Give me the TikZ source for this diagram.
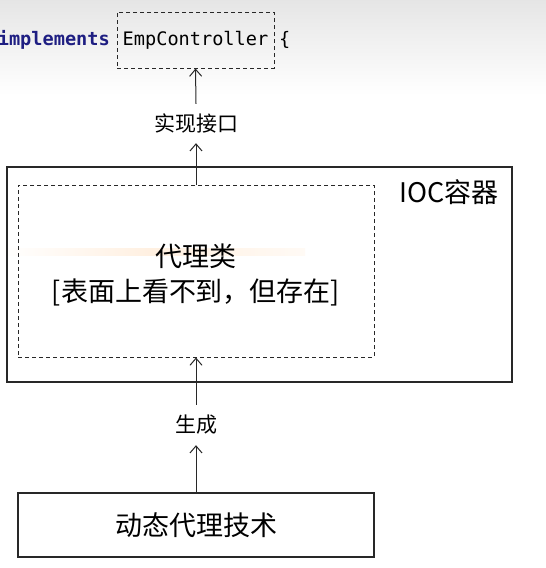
\documentclass[tikz,border=0pt]{standalone}
\usepackage{fontspec}
\setmainfont{Noto Sans CJK SC}
\newfontfamily\codefont{DejaVu Sans Mono}
\usetikzlibrary{arrows.meta}
\definecolor{kw}{RGB}{30,30,130}
\definecolor{ln}{RGB}{40,40,40}
\begin{document}
\begin{tikzpicture}[x=1pt,y=1pt,
  arr/.style={draw=ln, line width=1pt, -{Straight Barb[length=7pt,width=12pt]}},
  box/.style={draw=ln, line width=1.2pt, rectangle, inner sep=0pt},
  dbox/.style={draw=ln, line width=1pt, dash pattern=on 4pt off 3pt, rectangle, inner sep=0pt},
  lbl/.style={inner sep=0pt, font=\fontsize{21}{21}\selectfont, minimum width=90pt},
  code/.style={inner sep=0pt, font=\codefont\fontsize{18.6}{20}\selectfont}]
\useasboundingbox (0,0) rectangle (546,-568);
\fill[white] (0,0) rectangle (546,-568);
\shade[top color=black!10, bottom color=white] (0,0) rectangle (546,-95);
\shade[left color=white, right color=orange!4, middle color=orange!12] (0,-248) rectangle (305,-255);
% code line
\node[code, dbox, minimum width=157pt, minimum height=56pt] (emp) at (195.5,-40) {EmpController};
\node[code, anchor=base east, text=kw, font=\codefont\bfseries\fontsize{18.6}{20}\selectfont] (impl) at (110,-45.5) {implements};
\node[code, anchor=base west] (brace) at (279,-45.5) {\{};
% labels
\node[lbl, minimum height=39pt] (lbl1) at (196,-123.5) {实现接口};
\node[lbl, minimum height=40pt] (lbl2) at (196,-425) {生成};
% IOC container
\node[box, minimum width=505pt, minimum height=215pt] (ioc) at (259.5,-274.5) {};
\node[inner sep=0pt, font=\fontsize{27}{27}\selectfont] (ioclbl) at (449,-192) {IOC容器};
\node[dbox, minimum width=356pt, minimum height=172pt] (proxy) at (196,-271) {};
\node[inner sep=0pt, align=center, font=\fontsize{27}{35}\selectfont] (ptext) at (196,-274.5) {代理类\\{}[表面上看不到，但存在]};
% bottom box
\node[box, minimum width=356pt, minimum height=64pt, font=\fontsize{27}{27}\selectfont] (tech) at (196,-525) {动态代理技术};
% arrows
\draw[arr] (lbl1.north) -- (emp.south);
\draw[arr] (proxy.north) -- (lbl1.south);
\draw[arr] (lbl2.north) -- (proxy.south);
\draw[arr] (tech.north) -- (lbl2.south);
\end{tikzpicture}
\end{document}
